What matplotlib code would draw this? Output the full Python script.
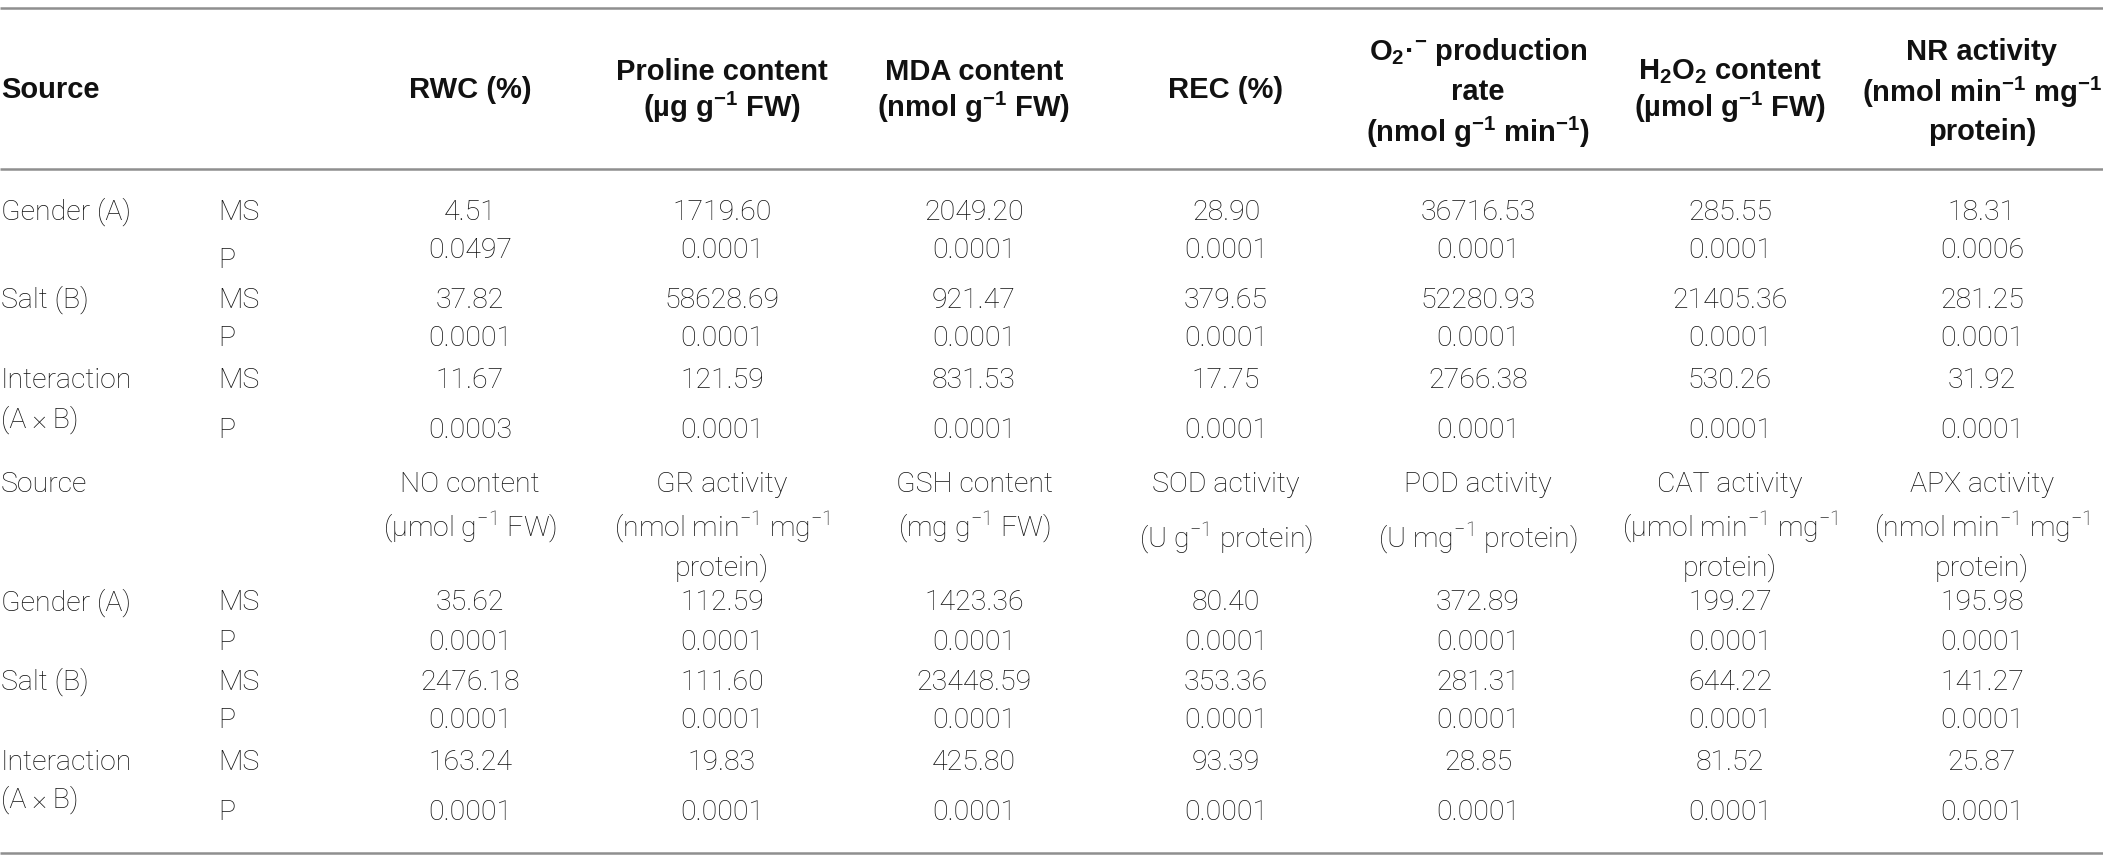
import matplotlib
matplotlib.use("Agg")
import matplotlib.pyplot as plt

plt.rcParams['mathtext.fontset'] = 'custom'
plt.rcParams['mathtext.rm'] = 'Roboto:light'
plt.rcParams['mathtext.bf'] = 'Liberation Sans:bold'
plt.rcParams['mathtext.it'] = 'Roboto:light'

# ---------------- data ----------------
sources = ['Gender (A)', 'Salt (B)', 'Interaction', '(A\u2009×\u2009B)']
stat_labels = ['MS', 'P']

header1 = [
    ['RWC (%)'],
    ['Proline content', '(µg g$^{\\mathbf{-1}}$ FW)'],
    ['MDA content', '(nmol g$^{\\mathbf{-1}}$ FW)'],
    ['REC (%)'],
    ['$\\mathbf{O}_{\\mathbf{2}}\\mathbf{·}^{\\mathbf{-}}$ production', 'rate',
     '(nmol g$^{\\mathbf{-1}}$ min$^{\\mathbf{-1}}$)'],
    ['H$_{\\mathbf{2}}$O$_{\\mathbf{2}}$ content', '(µmol g$^{\\mathbf{-1}}$ FW)'],
    ['NR activity', '(nmol min$^{\\mathbf{-1}}$ mg$^{\\mathbf{-1}}$', 'protein)'],
]
header2 = [
    ['NO content', '(µmol g$^{-1}$ FW)'],
    ['GR activity', '(nmol min$^{-1}$ mg$^{-1}$', 'protein)'],
    ['GSH content', '(mg g$^{-1}$ FW)'],
    ['SOD activity', '(U g$^{-1}$ protein)'],
    ['POD activity', '(U mg$^{-1}$ protein)'],
    ['CAT activity', '(µmol min$^{-1}$ mg$^{-1}$', 'protein)'],
    ['APX activity', '(nmol min$^{-1}$ mg$^{-1}$', 'protein)'],
]

# MS values (Gender, Salt, Interaction) and P values, per column
ms1 = [
    [4.51, 37.82, 11.67],
    [1719.60, 58628.69, 121.59],
    [2049.20, 921.47, 831.53],
    [28.90, 379.65, 17.75],
    [36716.53, 52280.93, 2766.38],
    [285.55, 21405.36, 530.26],
    [18.31, 281.25, 31.92],
]
p1 = [
    [0.0497, 0.0001, 0.0003],
    [0.0001, 0.0001, 0.0001],
    [0.0001, 0.0001, 0.0001],
    [0.0001, 0.0001, 0.0001],
    [0.0001, 0.0001, 0.0001],
    [0.0001, 0.0001, 0.0001],
    [0.0006, 0.0001, 0.0001],
]
ms2 = [
    [35.62, 2476.18, 163.24],
    [112.59, 111.60, 19.83],
    [1423.36, 23448.59, 425.80],
    [80.40, 353.36, 93.39],
    [372.89, 281.31, 28.85],
    [199.27, 644.22, 81.52],
    [195.98, 141.27, 25.87],
]
p2 = [
    [0.0001, 0.0001, 0.0001],
    [0.0001, 0.0001, 0.0001],
    [0.0001, 0.0001, 0.0001],
    [0.0001, 0.0001, 0.0001],
    [0.0001, 0.0001, 0.0001],
    [0.0001, 0.0001, 0.0001],
    [0.0001, 0.0001, 0.0001],
]

# ---------------- layout ----------------
W, H = 2103, 868
fig = plt.figure(figsize=(W / 100, H / 100), dpi=100)
ax = fig.add_axes([0, 0, 1, 1])
ax.set_xlim(0, W)
ax.set_ylim(H, 0)
ax.axis('off')

TXT = '#111111'
LINE = '#8f8f8f'
light = dict(family=['Roboto', 'DejaVu Sans'], weight='light', color=TXT, fontsize=20.5)
bold = dict(family=['Liberation Sans', 'DejaVu Sans'], weight='bold', color=TXT, fontsize=21)

col_x = [470 + 252 * i for i in range(7)]
x_src, x_stat = 1, 218

for y in (8, 169, 853):
    ax.plot([0, W], [y, y], color=LINE, lw=1.8, solid_capstyle='butt')

def header(lines_list, style, y_single, y_two, y_three, special=None):
    for i, lines in enumerate(lines_list):
        n = len(lines)
        ys = {1: y_single, 2: y_two, 3: y_three}[n]
        if special and i in special:
            ys = special[i]
        for ln, yy in zip(lines, ys):
            ax.text(col_x[i], yy, ln, ha='center', va='center', **style)

# first header
ax.text(x_src, 90, 'Source', ha='left', va='center', **bold)
header(header1, bold, [90], [72, 107], [52, 92, 132])

def block(ms, p, y_ms, y_p, y_plab, y_ab):
    for k in range(3):
        ax.text(x_src, y_ms[k], sources[k], ha='left', va='center', **light)
        ax.text(x_stat, y_ms[k], stat_labels[0], ha='left', va='center', **light)
        ax.text(x_stat, y_plab[k], stat_labels[1], ha='left', va='center', **light)
        for i in range(7):
            ax.text(col_x[i], y_ms[k], f'{ms[i][k]:.2f}', ha='center', va='center', **light)
            ax.text(col_x[i], y_p[k], f'{p[i][k]:.4f}', ha='center', va='center', **light)
    ax.text(x_src, y_ab, sources[3], ha='left', va='center', **light)

block(ms1, p1, [212, 300, 380], [250, 338, 431], [260, 338, 431], 420)

# second header
ax.text(x_src, 485, 'Source', ha='left', va='center', **light)
header(header2, light, [485], [485, 527], [485, 527, 568],
       special={3: [485, 538], 4: [485, 538]})

block(ms2, p2, [603, 682, 762], [642, 720, 812], [642, 720, 812], 800)

fig.savefig('out.png', dpi=100, facecolor='white')
